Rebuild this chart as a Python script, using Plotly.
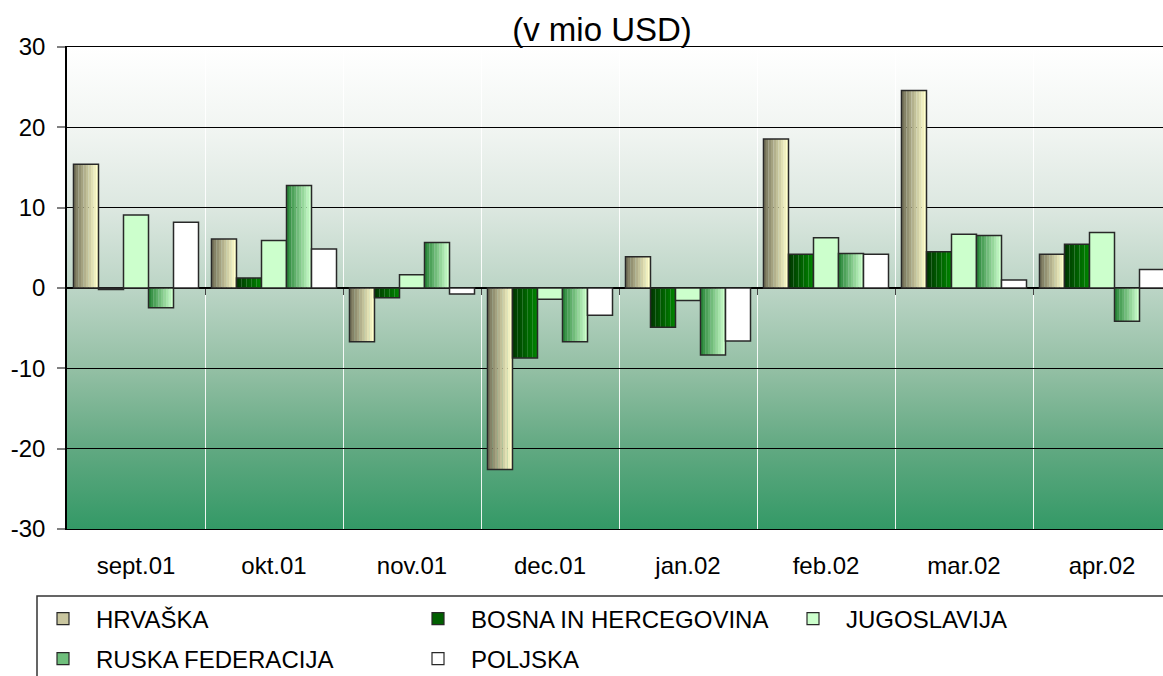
import base64
import plotly.graph_objects as go

# ---------------- data ----------------
categories = ["sept.01", "okt.01", "nov.01", "dec.01", "jan.02", "feb.02", "mar.02", "apr.02"]
series_names = ["HRVAŠKA", "BOSNA IN HERCEGOVINA", "JUGOSLAVIJA", "RUSKA FEDERACIJA", "POLJSKA"]
hrvaska = [15.4, 6.1, -6.7, -22.6, 3.9, 18.55, 24.6, 4.2]
bosna = [-0.2, 1.25, -1.2, -8.7, -4.9, 4.2, 4.5, 5.45]
jugoslavija = [9.1, 5.9, 1.65, -1.4, -1.55, 6.25, 6.7, 6.9]
ruska = [-2.45, 12.75, 5.65, -6.7, -8.35, 4.3, 6.55, -4.15]
poljska = [8.2, 4.85, -0.75, -3.4, -6.6, 4.2, 1.0, 2.3]
y_ticks = [-30, -20, -10, 0, 10, 20, 30]
title_text = "(v mio USD)"

series_values = [hrvaska, bosna, jugoslavija, ruska, poljska]

# ---------------- style ----------------
fills = [
    ("#76735a", "#ffffcc"),
    ("#003a00", "#008200"),
    ("#ccffcc", "#ccffcc"),
    ("#2a873a", "#ccffcc"),
    ("#ffffff", "#ffffff"),
]
legend_fill = ["#c9c69f", "#005f00", "#ccffcc", "#6fbf7c", "#ffffff"]
outline = "rgb(40,40,40)"
n_stripes = 10
group_width = 0.906
bar_w = group_width / len(series_names)
font_family = "Liberation Sans, Arial, sans-serif"


def hex2rgb(h):
    h = h.lstrip("#")
    return tuple(int(h[i:i + 2], 16) for i in (0, 2, 4))


def mix(c1, c2, t):
    a, b = hex2rgb(c1), hex2rgb(c2)
    return "rgb(%d,%d,%d)" % tuple(round(a[i] + (b[i] - a[i]) * t) for i in range(3))


x_pos = list(range(len(categories)))
fig = go.Figure()

for si, (name, vals) in enumerate(zip(series_names, series_values)):
    off = -group_width / 2 + si * bar_w
    c_left, c_right = fills[si]
    if c_left != c_right:
        sw = bar_w / n_stripes
        for k in range(n_stripes):
            fig.add_trace(go.Bar(
                x=x_pos, y=vals, offset=off + k * sw, width=sw * 1.02,
                marker=dict(color=mix(c_left, c_right, k / (n_stripes - 1)), line=dict(width=0)),
                showlegend=False, hoverinfo="skip",
            ))
        fig.add_trace(go.Bar(
            x=x_pos, y=vals, offset=off, width=bar_w, name=name,
            marker=dict(color="rgba(0,0,0,0)", line=dict(color=outline, width=1.5)),
            showlegend=False,
        ))
    else:
        fig.add_trace(go.Bar(
            x=x_pos, y=vals, offset=off, width=bar_w, name=name,
            marker=dict(color=c_left, line=dict(color=outline, width=1.5)),
            showlegend=False,
        ))

for si, name in enumerate(series_names):
    fig.add_trace(go.Bar(
        x=[None], y=[None], name=name,
        marker=dict(color=legend_fill[si], line=dict(color=outline, width=1.2)),
        showlegend=True, legend="legend" if si < 3 else "legend2",
    ))

# helper so the tick-only category axis at y=0 is drawn
fig.add_trace(go.Scatter(x=[None], y=[None], xaxis="x2", showlegend=False, hoverinfo="skip"))

svg = (
    "<svg xmlns='http://www.w3.org/2000/svg' width='10' height='600' preserveAspectRatio='none'>"
    "<defs><linearGradient id='g' x1='0' y1='0' x2='0' y2='1'>"
    "<stop offset='0' stop-color='#ffffff'/>"
    "<stop offset='0.17' stop-color='#f1f5f2'/>"
    "<stop offset='0.33' stop-color='#dde8e1'/>"
    "<stop offset='0.5' stop-color='#bcd5c6'/>"
    "<stop offset='0.67' stop-color='#93bfa4'/>"
    "<stop offset='0.83' stop-color='#62a982'/>"
    "<stop offset='1' stop-color='#339966'/>"
    "</linearGradient></defs>"
    "<rect width='10' height='600' fill='url(#g)'/></svg>"
)
bg_uri = "data:image/svg+xml;base64," + base64.b64encode(svg.encode()).decode()

W, H = 1163, 676
ml, mt, mb = 67, 47, 147
cat_px = 138.0
x_max = (W - ml) / cat_px - 0.5
plot_h = H - mt - mb


def py(pix):
    return (H - mb - pix) / plot_h


def px(pix):
    return (pix - ml) / (W - ml)


legend_common = dict(orientation="h", xanchor="left", yanchor="middle",
                     entrywidth=304, entrywidthmode="pixels", itemwidth=56,
                     bgcolor="rgba(0,0,0,0)", borderwidth=0,
                     font=dict(size=24), traceorder="normal")

fig.update_layout(
    width=W, height=H,
    margin=dict(l=ml, r=0, t=mt, b=mb, pad=0, autoexpand=False),
    paper_bgcolor="white",
    plot_bgcolor="rgba(0,0,0,0)",
    barmode="overlay",
    font=dict(family=font_family, color="black", size=24),
    title=dict(text=title_text, x=602 / W, xanchor="center", xref="container",
               y=1 - 29 / H, yanchor="middle", yref="container",
               font=dict(size=33, family=font_family, color="black")),
    images=[dict(source=bg_uri, xref="paper", yref="paper", x=0, y=1, sizex=1, sizey=1,
                 sizing="stretch", layer="below", xanchor="left", yanchor="top")],
    xaxis=dict(
        range=[-0.5, x_max], tickmode="array", tickvals=x_pos, ticktext=categories,
        ticks="", showgrid=False, zeroline=False, showline=True, linecolor="black",
        linewidth=1, mirror=True, tickfont=dict(size=24), ticklabelstandoff=15,
        minor=dict(tick0=0.5, dtick=1, showgrid=True, gridcolor="rgba(255,255,255,0.9)",
                   gridwidth=1.2, ticks=""),
        fixedrange=True,
    ),
    xaxis2=dict(
        overlaying="x", anchor="free", position=0.5, side="bottom",
        range=[-0.5, x_max], tickmode="array", tickvals=[i + 0.5 for i in x_pos[:-1]],
        ticks="outside", ticklen=6, tickwidth=1.2, tickcolor="#444",
        showticklabels=False, showgrid=False, zeroline=False, showline=False,
        fixedrange=True,
    ),
    yaxis=dict(
        range=[-30, 30], tickmode="array", tickvals=y_ticks,
        ticktext=[str(v) for v in y_ticks],
        ticks="outside", ticklen=8, tickcolor="#808080", tickwidth=1.5,
        showgrid=True, gridcolor="black", gridwidth=1,
        zeroline=True, zerolinecolor="black", zerolinewidth=1.5,
        showline=True, linecolor="black", linewidth=1.5,
        tickfont=dict(size=24), ticklabelstandoff=7, fixedrange=True,
    ),
    legend=dict(x=px(30), y=py(619), **legend_common),
    legend2=dict(x=px(30), y=py(659), **legend_common),
    shapes=[dict(type="rect", xref="paper", yref="paper",
                 x0=px(37), x1=px(W + 20), y0=py(596), y1=py(H + 20),
                 line=dict(color="#333", width=1.5), fillcolor="rgba(0,0,0,0)", layer="above")],
    showlegend=True,
)

fig.write_html("out.html",
               config={"displayModeBar": False},
               post_script="document.body.style.margin='0px';document.body.style.padding='0px';")
